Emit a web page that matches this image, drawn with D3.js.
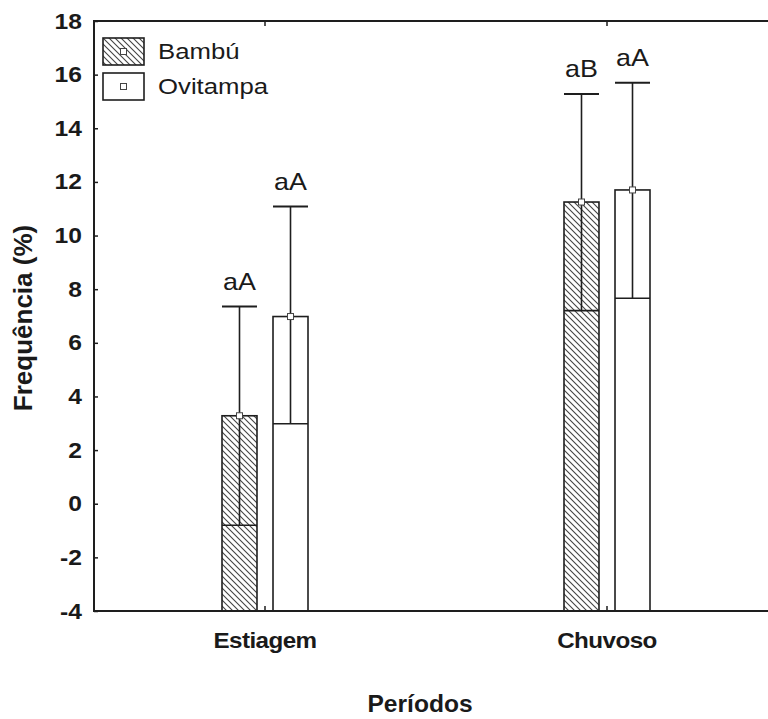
<!DOCTYPE html>
<html>
<head>
<meta charset="utf-8">
<script src="https://cdn.jsdelivr.net/npm/d3@7"></script>
<style>
  body { margin: 0; background: #fff; }
  text { font-family: "Liberation Sans", Arial, sans-serif; fill: #1a1a1a; }
</style>
</head>
<body>
<div id="chart"></div>
<script>
// dados
const periods = ['Estiagem', 'Chuvoso']
const series = ['Bambú', 'Ovitampa']
const bambuMean = [3.28, 11.25]
const bambuLow = [-0.8, 7.2]
const bambuHigh = [7.35, 15.28]
const bambuLetters = ['aA', 'aB']
const ovitMean = [6.98, 11.7]
const ovitLow = [2.98, 7.66]
const ovitHigh = [11.08, 15.7]
const ovitLetters = ['aA', 'aA']
const yTicks = [-4, -2, 0, 2, 4, 6, 8, 10, 12, 14, 16, 18]

const width = 768, height = 719
const margin = { top: 21, left: 94, bottom: 108 }
const stroke = '#1e1e1e'

// o texto da figura original é um pouco esticado na horizontal
const place = (x, y, sx) => 'translate(' + x + ',' + y + ') scale(' + sx + ',1)'

const svg = d3.select('#chart').append('svg')
  .attr('width', width)
  .attr('height', height)

const defs = svg.append('defs')
const pat = defs.append('pattern')
  .attr('id', 'hatch')
  .attr('patternUnits', 'userSpaceOnUse')
  .attr('width', 6).attr('height', 6)
pat.append('rect').attr('width', 6).attr('height', 6).attr('fill', '#fff')
pat.append('path')
  .attr('d', 'M0,0L6,6M-1,5L1,7M5,-1L7,1')
  .attr('stroke', '#444').attr('stroke-width', 1.1)

// escalas
const y = d3.scaleLinear().domain([-4, 18]).range([height - margin.bottom, margin.top])
const x0 = d3.scaleBand().domain(periods).range([margin.left, margin.left + 684])
const x1 = d3.scaleBand().domain(series).range([-43, 43]).paddingInner(0.314)

const data = []
periods.forEach((p, i) => {
  data.push({ period: p, serie: 'Bambú', mean: bambuMean[i], low: bambuLow[i], high: bambuHigh[i], letter: bambuLetters[i] })
  data.push({ period: p, serie: 'Ovitampa', mean: ovitMean[i], low: ovitLow[i], high: ovitHigh[i], letter: ovitLetters[i] })
})
const fillOf = s => s === 'Bambú' ? 'url(#hatch)' : '#fff'
const cx = d => x0(d.period) + x0.bandwidth() / 2 + x1(d.serie)
const bw = x1.bandwidth()

// barras
svg.selectAll('.bar')
  .data(data)
  .enter()
  .append('rect')
  .attr('class', 'bar')
  .attr('x', d => cx(d))
  .attr('y', d => y(d.mean))
  .attr('width', bw)
  .attr('height', d => y(-4) - y(d.mean))
  .attr('fill', d => fillOf(d.serie))
  .attr('stroke', stroke)
  .attr('stroke-width', 1.6)

// barras de erro
const err = svg.selectAll('.err').data(data).enter().append('g')
err.append('line')
  .attr('x1', d => cx(d) + bw / 2).attr('x2', d => cx(d) + bw / 2)
  .attr('y1', d => y(d.low)).attr('y2', d => y(d.high))
  .attr('stroke', stroke).attr('stroke-width', 1.6)
err.append('line')
  .attr('x1', d => cx(d)).attr('x2', d => cx(d) + bw)
  .attr('y1', d => y(d.high)).attr('y2', d => y(d.high))
  .attr('stroke', stroke).attr('stroke-width', 2)
err.append('line')
  .attr('x1', d => cx(d)).attr('x2', d => cx(d) + bw)
  .attr('y1', d => y(d.low)).attr('y2', d => y(d.low))
  .attr('stroke', stroke).attr('stroke-width', 1.6)
err.append('rect')
  .attr('x', d => cx(d) + bw / 2 - 3).attr('y', d => y(d.mean) - 3)
  .attr('width', 6).attr('height', 6)
  .attr('fill', '#fff').attr('stroke', '#444').attr('stroke-width', 1)
err.append('text')
  .attr('transform', d => place(cx(d) + bw / 2, y(d.high) - 17, 1.12))
  .attr('text-anchor', 'middle')
  .attr('font-size', 24)
  .text(d => d.letter)

// eixos
const yAxis = svg.append('g')
  .attr('transform', 'translate(' + margin.left + ',0)')
  .call(d3.axisRight(y).tickValues(yTicks).tickSize(4).tickFormat(''))
yAxis.select('.domain').remove()
yAxis.selectAll('line').attr('stroke', stroke).attr('stroke-width', 1.5)
svg.selectAll('.ylab')
  .data(yTicks)
  .enter()
  .append('text')
  .attr('transform', d => place(82, y(d) + 7.5, 1.12))
  .attr('text-anchor', 'end')
  .attr('font-size', 22)
  .attr('font-weight', 'bold')
  .text(d => d)

const xBottom = svg.append('g')
  .attr('transform', 'translate(0,' + y(-4) + ')')
  .call(d3.axisTop(x0).tickSize(5).tickFormat(''))
xBottom.select('.domain').remove()
xBottom.selectAll('line').attr('stroke', stroke).attr('stroke-width', 1.5)
const xTop = svg.append('g')
  .attr('transform', 'translate(0,' + y(18) + ')')
  .call(d3.axisBottom(x0).tickSize(5).tickFormat(''))
xTop.select('.domain').remove()
xTop.selectAll('line').attr('stroke', stroke).attr('stroke-width', 1.5)

svg.append('path')
  .attr('d', 'M' + width + ',' + y(18) + 'H' + margin.left + 'V' + y(-4) + 'H' + width)
  .attr('fill', 'none').attr('stroke', stroke).attr('stroke-width', 2)

svg.selectAll('.xlab')
  .data(periods)
  .enter()
  .append('text')
  .attr('transform', d => place(x0(d) + x0.bandwidth() / 2, 648, 1.1))
  .attr('text-anchor', 'middle')
  .attr('font-size', 22)
  .attr('font-weight', 'bold')
  .attr('letter-spacing', -0.5)
  .text(d => d)

svg.append('text')
  .attr('transform', place(420, 712, 1.07))
  .attr('text-anchor', 'middle')
  .attr('font-size', 23).attr('font-weight', 'bold')
  .text('Períodos')

svg.append('text')
  .attr('transform', 'translate(32,' + 318 + ') rotate(-90)')
  .attr('text-anchor', 'middle')
  .attr('font-size', 26).attr('font-weight', 'bold')
  .text('Frequência (%)')

// legenda
const leg = svg.selectAll('.leg').data(series).enter().append('g')
  .attr('transform', (d, i) => 'translate(103,' + (38 + i * 35) + ')')
leg.append('rect')
  .attr('width', 41).attr('height', 27)
  .attr('fill', d => fillOf(d))
  .attr('stroke', stroke).attr('stroke-width', 1.6)
leg.append('rect')
  .attr('x', 17.5).attr('y', 10.5).attr('width', 6).attr('height', 6)
  .attr('fill', '#fff').attr('stroke', '#444').attr('stroke-width', 1)
leg.append('text')
  .attr('transform', place(55, 21, 1.17))
  .attr('font-size', 22)
  .text(d => d)
</script>
</body>
</html>
